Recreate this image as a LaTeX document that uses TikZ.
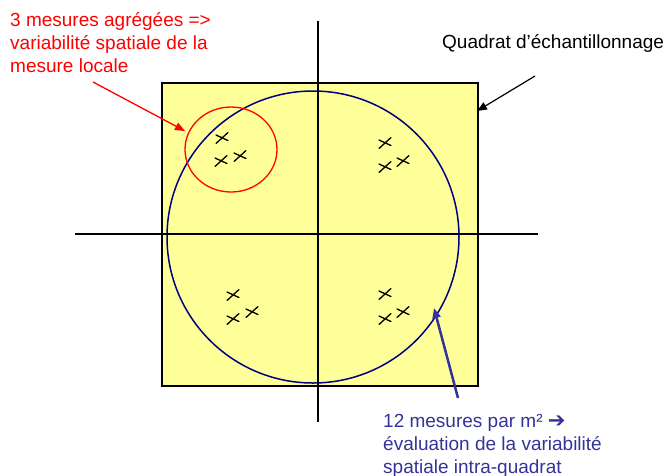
\documentclass[tikz,border=0pt]{standalone}
\usepackage{fontspec}
\setmainfont{Liberation Sans}
\newfontfamily\dejavub{DejaVu Sans Bold}
\usetikzlibrary{arrows.meta}
\definecolor{quadyellow}{HTML}{FFFF99}
\definecolor{navyline}{HTML}{000080}
\definecolor{bluetxt}{HTML}{333399}
\tikzset{
  axisline/.style={line width=1.5pt, black},
  quadbox/.style={draw=black, line width=1.5pt, fill=quadyellow},
  crossline/.style={line width=1.3pt, black, line cap=round},
  xmark/.pic={\draw[crossline] (-6,5.5)--(6,-5.5); \draw[crossline] (-6,-3)--(6,2.5);},
  lbl/.style={inner sep=0pt, align=left, font=\fontsize{19}{23}\selectfont},
  tip/.style={-{Triangle[length=10pt,width=8pt]}}
}
\begin{document}
\begin{tikzpicture}[x=1pt,y=-1pt]
\useasboundingbox (0,0) rectangle (669,475);
% quadrat
\node[quadbox, minimum width=316pt, minimum height=303pt, inner sep=0pt, anchor=north west] (quad) at (161,82) {};
% big circle
\draw[navyline, line width=1.5pt] (313,237) ellipse [x radius=146, y radius=146];
\coordinate (bigc) at (313,237);
% axes
\coordinate (vtop) at (318,21);
\coordinate (vbot) at (318,422);
\coordinate (hl) at (75,234);
\coordinate (hr) at (538,234);
\draw[axisline] (vtop) -- (vbot);
\draw[axisline] (hl) -- (hr);
% red circle
\draw[red, line width=1.3pt] (231,149.5) ellipse [x radius=46, y radius=42.5];
% crosses
\foreach \p in {(222,138),(221,161),(240,156),(385,143),(385,167),(403,161),(233,295),(233,319),(252,312),(385,294),(385,319),(403,312)}
  \pic at \p {xmark};
% labels
\node[lbl, text=red, anchor=base west] (redlbl) at (10,72) {3 mesures agrégées =>\\variabilité spatiale de la\\mesure locale};
\node[lbl, anchor=base west] (quadlbl) at (442,48) {Quadrat d’échantillonnage};
\node[lbl, text=bluetxt, anchor=base west] (bluelbl) at (383,473) {12 mesures par m² {\dejavub\fontsize{21}{23}\selectfont ➔}\\évaluation de la variabilité\\spatiale intra-quadrat};
% arrows
\coordinate (redtail) at (93,82);
\coordinate (redtip) at (185,131);
\draw[red, line width=1.3pt, tip] (redtail) -- (redtip);
\coordinate (blktail) at (535,76);
\coordinate (blktip) at (477,111);
\draw[black, line width=1.2pt, tip] (blktail) -- (blktip);
\coordinate (bltail) at (458,398);
\coordinate (bltip) at (434,308);
\draw[bluetxt, line width=2.5pt, tip] (bltail) -- (bltip);
\end{tikzpicture}
\end{document}
